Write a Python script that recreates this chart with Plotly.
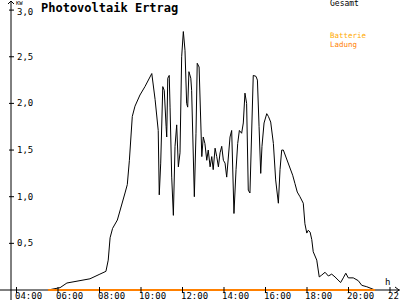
import plotly.graph_objects as go

# ---- data (time in decimal hours, power in kW) ----
times = [5.52, 6.10, 6.43, 7.06, 7.54, 8.02, 8.31, 8.42, 8.51, 8.63, 8.86, 9.23, 9.34, 9.44,
         9.58, 9.71, 9.95, 10.19, 10.52, 10.68, 10.83, 10.88, 10.95, 11.05, 11.12, 11.21,
         11.24, 11.29, 11.36, 11.40, 11.48, 11.56, 11.64, 11.72, 11.80, 11.88, 11.96, 12.04,
         12.12, 12.20, 12.25, 12.31, 12.40, 12.44, 12.52, 12.57, 12.65, 12.71, 12.80, 12.88,
         12.93, 13.00, 13.08, 13.17, 13.24, 13.33, 13.41, 13.48, 13.57, 13.65, 13.73, 13.81,
         13.89, 13.97, 14.05, 14.13, 14.21, 14.29, 14.37, 14.42, 14.48, 14.58, 14.66, 14.74,
         14.85, 14.93, 15.01, 15.09, 15.17, 15.25, 15.34, 15.41, 15.54, 15.61, 15.69, 15.77,
         15.83, 15.93, 16.06, 16.14, 16.25, 16.38, 16.49, 16.62, 16.70, 16.78, 16.86, 16.94,
         17.05, 17.18, 17.31, 17.42, 17.53, 17.66, 17.82, 17.90, 17.99, 18.06, 18.15, 18.23,
         18.30, 18.47, 18.59, 18.71, 18.87, 19.03, 19.19, 19.35, 19.51, 19.62, 19.75, 19.87,
         19.99, 20.23, 20.47, 20.64, 20.88, 21.12, 21.28]
gesamt = [0, 0.025, 0.075, 0.10, 0.12, 0.17, 0.20, 0.32, 0.56, 0.66, 0.75, 1.04, 1.13, 1.39,
          1.86, 1.97, 2.09, 2.18, 2.32, 2.04, 1.71, 1.02, 1.36, 2.18, 2.14, 1.75,
          1.64, 2.27, 2.30, 1.96, 1.21, 0.80, 1.54, 1.77, 1.32, 1.47, 2.50, 2.77,
          2.57, 2.00, 1.96, 2.34, 2.27, 2.14, 1.21, 1.00, 1.68, 2.43, 2.39, 1.75,
          1.43, 1.64, 1.57, 1.39, 1.50, 1.32, 1.43, 1.29, 1.52, 1.43, 1.32, 1.47,
          1.54, 1.39, 1.36, 1.21, 1.39, 1.64, 1.71, 1.14, 0.82, 1.29, 1.57, 1.71,
          1.68, 1.79, 2.11, 2.00, 1.07, 1.04, 1.68, 2.30, 2.29, 2.25, 1.75, 1.25,
          1.54, 1.79, 1.89, 1.86, 1.80, 1.57, 1.18, 0.93, 1.29, 1.50, 1.50, 1.45,
          1.39, 1.32, 1.23, 1.14, 1.05, 1.00, 0.93, 0.71, 0.61, 0.64, 0.62, 0.54,
          0.41, 0.32, 0.14, 0.16, 0.19, 0.15, 0.17, 0.14, 0.11, 0.08, 0.13, 0.18,
          0.13, 0.13, 0.10, 0.05, 0.035, 0.018, 0]
batterie_ladung = [0 for _ in times]

x_ticks = [4, 6, 8, 10, 12, 14, 16, 18, 20, 22]
x_tick_labels = ["04:00", "06:00", "08:00", "10:00", "12:00", "14:00", "16:00", "18:00", "20:00", "22:00"]
y_ticks = [0.5, 1.0, 1.5, 2.0, 2.5, 3.0]
y_tick_labels = ["0,5", "1,0", "1,5", "2,0", "2,5", "3,0"]

# ---- layout constants ----
W, H = 400, 300
BASE = 290          # pixel row of the zero line
L, R, T, B = 11, 0, 0, 7
PW, PH = W - L - R, H - T - B
FONT = "DejaVu Sans Mono"
ORANGE = "#ff8000"
PX_PER_KW = 93.3
PX_PER_H = 20.75
X04 = 16.5


def px(x):
    return (x - L) / PW


def py(y):
    return (H - B - y) / PH


fig = go.Figure()
fig.add_trace(go.Scatter(x=times, y=gesamt, mode="lines", line=dict(color="black", width=1),
                         name="Gesamt", hoverinfo="skip"))
fig.add_trace(go.Scatter(x=times, y=batterie_ladung, mode="lines",
                         line=dict(color=ORANGE, width=2), name="Batterie Ladung",
                         hoverinfo="skip"))

shapes = []
# axis lines
shapes.append(dict(type="line", xref="paper", yref="paper", x0=px(11), x1=px(11), y0=py(1), y1=py(300),
                   line=dict(color="black", width=1), layer="below"))
shapes.append(dict(type="line", xref="paper", yref="y", x0=px(0), x1=px(400), y0=0, y1=0,
                   line=dict(color="black", width=1), layer="below"))
# arrows
shapes.append(dict(type="path", xref="paper", yref="paper",
                   path=f"M {px(8)} {py(4)} L {px(11)} {py(1)} L {px(14)} {py(4)}",
                   line=dict(color="black", width=1)))
shapes.append(dict(type="path", xref="paper", yref="paper",
                   path=f"M {px(395)} {py(BASE - 3)} L {px(399)} {py(BASE)} L {px(395)} {py(BASE + 3)}",
                   line=dict(color="black", width=1)))
# tick marks
for v in y_ticks:
    shapes.append(dict(type="line", xref="paper", yref="y", x0=px(9), x1=px(14), y0=v, y1=v,
                       line=dict(color="black", width=1)))
for t in x_ticks:
    shapes.append(dict(type="line", xref="x", yref="paper", x0=t, x1=t, y0=py(BASE - 3), y1=py(BASE + 3),
                       line=dict(color="black", width=1)))

annotations = [
    dict(text="<b>Photovoltaik Ertrag</b>", xref="paper", yref="paper", x=px(39), y=py(8),
         xanchor="left", yanchor="middle", showarrow=False, font=dict(family=FONT, size=12, color="black")),
    dict(text="KW", xref="paper", yref="paper", x=px(14), y=py(2.5), xanchor="left", yanchor="middle",
         showarrow=False, font=dict(family=FONT, size=5.5, color="black")),
    dict(text="h", xref="paper", yref="paper", x=px(387), y=py(282), xanchor="center", yanchor="middle",
         showarrow=False, font=dict(family=FONT, size=9, color="black")),
    dict(text="Gesamt", xref="paper", yref="paper", x=px(328), y=py(4), xanchor="left", yanchor="middle",
         showarrow=False, font=dict(family=FONT, size=8, color="black")),
    dict(text="Batterie", xref="paper", yref="paper", x=px(328), y=py(35.5), xanchor="left", yanchor="middle",
         showarrow=False, font=dict(family=FONT, size=7.5, color="#ffaa00")),
    dict(text="Ladung", xref="paper", yref="paper", x=px(328), y=py(44.5), xanchor="left", yanchor="middle",
         showarrow=False, font=dict(family=FONT, size=7.5, color=ORANGE)),
]
for v, lab in zip(y_ticks, y_tick_labels):
    annotations.append(dict(text=lab, xref="paper", yref="y", x=px(15), y=v, xanchor="left",
                            yanchor="middle", yshift=(-1.5 if v == y_ticks[-1] else 0), showarrow=False,
                            font=dict(family=FONT, size=9, color="black")))
for t, lab in zip(x_ticks, x_tick_labels):
    annotations.append(dict(text=lab, xref="x", yref="paper", x=t, y=py(296), xanchor="left",
                            xshift=-4, yanchor="middle", showarrow=False,
                            font=dict(family=FONT, size=9, color="black")))

x_left = 4 + (L - X04) / PX_PER_H
x_right = 4 + (W - R - X04) / PX_PER_H
y_top = (BASE - T) / PX_PER_KW
y_bottom = -(H - B - BASE) / PX_PER_KW

fig.update_layout(
    width=W, height=H,
    margin=dict(l=L, r=R, t=T, b=B, pad=0),
    paper_bgcolor="white", plot_bgcolor="white",
    showlegend=False,
    xaxis=dict(range=[x_left, x_right], showgrid=False, zeroline=False, showline=False,
               showticklabels=False, ticks="", fixedrange=True),
    yaxis=dict(range=[y_bottom, y_top], showgrid=False, zeroline=False, showline=False,
               showticklabels=False, ticks="", fixedrange=True),
    shapes=shapes,
    annotations=annotations,
)

fig.write_html("out.html", config={"displayModeBar": False})
